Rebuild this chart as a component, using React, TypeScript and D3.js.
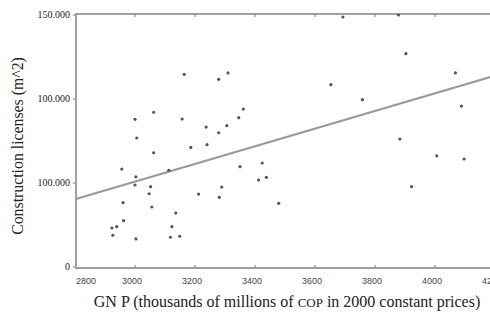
import React from "react";
import * as d3 from "d3";

const width = 490;
const height = 319;
const margin = { top: 15, left: 75, bottom: 52 };

// GNP (thousands of millions of COP) vs construction licenses (m^2)
const gnp = [
  3164, 3279, 3310, 3062, 3000, 3157, 3237, 3279, 3306, 3006,
  3062, 3186, 3240, 3346, 3361, 2956, 3003, 3113, 3000, 3052,
  3047, 2960, 3056, 3212, 3289, 3281, 3136, 2962, 2939, 2923,
  2926, 3123, 3003, 3118, 3149, 3350, 3424, 3412, 3438, 3479,
  3653, 3758, 3693, 3878, 3903, 4068, 4088, 3883, 4006, 4097,
  3922,
];
const licenses = [
  114700, 111700, 115500, 92100, 87900, 88100, 83300, 79900, 84100, 76800,
  68000, 71200, 72800, 88900, 94000, 58300, 53700, 57600, 48800, 47800,
  43600, 38300, 35700, 43400, 47600, 41500, 32100, 27600, 24000, 23200,
  18900, 24000, 16700, 17700, 18300, 59700, 61900, 51800, 53400, 37900,
  108500, 99600, 148800, 150000, 127000, 115500, 95800, 76200, 66200, 64300,
  47800,
];

// fitted trend line
const fitX = [2800, 4240];
const fitY = [40300, 116000];

const xTicks = [2800, 3000, 3200, 3400, 3600, 3800, 4000, 4200];
const yTicks = [0, 50000, 100000, 150000];
const yTickLabels = ["0", "100.000", "100.000", "150.000"];

const xScale = d3.scaleLinear().domain([2800, 4240]).range([margin.left, margin.left + 432]);
const yScale = d3.scaleLinear().domain([0, 150000]).range([height - margin.bottom, margin.top]);

const axisColor = "#a0a0a0";

export default function App() {
  const x0 = xScale(2800);
  const x1 = xScale(4240);
  const yTop = yScale(150000) - 1;
  const yBot = yScale(0) + 1;
  const line = d3.line<number>()
    .x((d, i) => xScale(fitX[i]))
    .y(d => yScale(d));

  return (
    <svg width={width} height={height} style={{ position: "absolute", left: 0, top: 0, background: "#fff" }}>
      {/* frame */}
      <line x1={x0 + 1} x2={x1} y1={yTop} y2={yTop} stroke={axisColor} strokeWidth={2} />
      <line x1={x0 + 1} x2={x1} y1={yBot} y2={yBot} stroke={axisColor} strokeWidth={2} />
      <line x1={x0 + 1} x2={x0 + 1} y1={yTop - 1} y2={yBot + 1} stroke={axisColor} strokeWidth={2} />

      {xTicks.map((t, i) => (
        <g key={t}>
          {i > 0 && <line x1={xScale(t)} x2={xScale(t)} y1={yTop} y2={yTop + 3} stroke="#777" />}
          {i > 0 && <line x1={xScale(t)} x2={xScale(t)} y1={yBot} y2={yBot - 3} stroke="#777" />}
          <text
            x={i === 0 ? xScale(t) + 1 : xScale(t) - 3}
            y={284}
            textAnchor={i === 0 ? "start" : "middle"}
            fontFamily="Liberation Sans"
            fontSize={9}
            fill="#444"
          >
            {t}
          </text>
        </g>
      ))}

      {yTicks.map((t, i) => (
        <g key={t}>
          <line x1={x0 - 2} x2={x0} y1={yScale(t)} y2={yScale(t)} stroke="#777" />
          <text
            x={70}
            y={yScale(t) + 3}
            textAnchor="end"
            fontFamily="Liberation Serif"
            fontSize={10}
            fill="#222"
          >
            {yTickLabels[i]}
          </text>
        </g>
      ))}

      {/* trend */}
      <path d={line(fitY) || ""} fill="none" stroke="#999" strokeWidth={2} />

      {gnp.map((g, i) => (
        <circle key={i} cx={xScale(g)} cy={yScale(licenses[i])} r={1.6} fill="#555" />
      ))}

      <text
        transform={`translate(23, 146) rotate(-90)`}
        textAnchor="middle"
        fontFamily="Liberation Serif"
        fontSize={15.8}
        fill="#222"
      >
        Construction licenses (m^2)
      </text>
      <text
        x={287}
        y={307}
        textAnchor="middle"
        fontFamily="Liberation Serif"
        fontSize={16}
        fill="#222"
      >
        GN P (thousands of millions of <tspan fontSize={13}>COP</tspan> in 2000 constant prices)
      </text>
    </svg>
  );
}
